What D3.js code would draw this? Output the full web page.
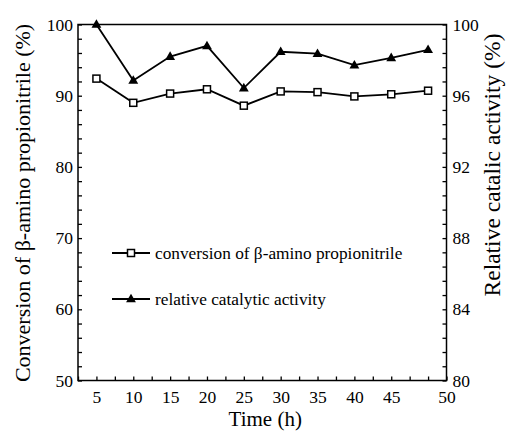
<!DOCTYPE html>
<html>
<head>
<meta charset="utf-8">
<title>Conversion vs time</title>
<style>
  body { margin: 0; background: #fff; }
  text { font-family: "Liberation Serif", "DejaVu Serif", serif; fill: #000; }
</style>
</head>
<body>
<svg width="506" height="433"></svg>
<script src="https://d3js.org/d3.v7.min.js"></script>
<script>

var times = [5, 10, 15, 20, 25, 30, 35, 40, 45, 50];
var conversion = [92.4, 89.0, 90.3, 90.9, 88.6, 90.6, 90.5, 89.9, 90.2, 90.7];
var activity = [100, 96.86, 98.2, 98.8, 96.43, 98.47, 98.36, 97.72, 98.13, 98.58];

var xTickVals = [5, 10, 15, 20, 25, 30, 35, 40, 45, 52.5];
var xTickLabels = ["5", "10", "15", "20", "25", "30", "35", "40", "45", "50"];
var leftTicks = [50, 60, 70, 80, 90, 100];
var rightTicks = [80, 84, 88, 92, 96, 100];

var svg = d3.select("svg");

var pL = 78, pR = 446.5, pT = 24.5, pB = 380.5;

var x = d3.scaleLinear().domain([2.5, 52.5]).range([pL, pR]);
var yL = d3.scaleLinear().domain([50, 100]).range([pB, pT]);
var yR = d3.scaleLinear().domain([80, 100]).range([pB, pT]);

// minor ticks
var xMinor = d3.range(2.5, 52.51, 2.5);
var yMinor = d3.range(50, 100.01, 2);
var yRMinor = d3.range(80, 100.01, 0.8);

function styleAxis(g) {
  g.select(".domain").remove();
  g.selectAll("line").attr("stroke", "#000").attr("stroke-width", 1.3);
  g.selectAll("text").style("font-size", "17.5px").attr("font-family", "Liberation Serif");
}

svg.append("g").attr("transform", "translate(0," + pB + ")")
  .call(d3.axisBottom(x).tickValues(xMinor).tickSize(-4).tickFormat(""))
  .call(styleAxis);
svg.append("g").attr("transform", "translate(0," + pB + ")")
  .call(d3.axisBottom(x).tickValues(xTickVals).tickSize(0).tickPadding(10)
    .tickFormat(function(d, i) { return xTickLabels[i]; }))
  .call(styleAxis);

svg.append("g").attr("transform", "translate(" + pL + ",0)")
  .call(d3.axisLeft(yL).tickValues(yMinor).tickSize(-4).tickFormat(""))
  .call(styleAxis);
svg.append("g").attr("transform", "translate(" + pL + ",0)")
  .call(d3.axisLeft(yL).tickValues(leftTicks).tickSize(0).tickPadding(5))
  .call(styleAxis);

svg.append("g").attr("transform", "translate(" + pR + ",0)")
  .call(d3.axisRight(yR).tickValues(yRMinor).tickSize(-4).tickFormat(""))
  .call(styleAxis);
svg.append("g").attr("transform", "translate(" + pR + ",0)")
  .call(d3.axisRight(yR).tickValues(rightTicks).tickSize(0).tickPadding(6))
  .call(styleAxis);

// frame
svg.append("rect")
  .attr("x", pL).attr("y", pT)
  .attr("width", pR - pL).attr("height", pB - pT)
  .attr("fill", "none").attr("stroke", "#000").attr("stroke-width", 1.5);

// lines
var lineConv = d3.line().x(function(d, i) { return x(times[i]); }).y(function(d) { return yL(d); });
var lineAct = d3.line().x(function(d, i) { return x(times[i]); }).y(function(d) { return yR(d); });

svg.append("path").datum(conversion).attr("d", lineConv)
  .attr("fill", "none").attr("stroke", "#000").attr("stroke-width", 1.8);
svg.append("path").datum(activity).attr("d", lineAct)
  .attr("fill", "none").attr("stroke", "#000").attr("stroke-width", 1.8);

var tri = d3.symbol().type(d3.symbolTriangle).size(42);

svg.selectAll(".sq").data(conversion).enter().append("rect")
  .attr("x", function(d, i) { return x(times[i]) - 3.5; })
  .attr("y", function(d) { return yL(d) - 3.5; })
  .attr("width", 7).attr("height", 7)
  .attr("fill", "#fff").attr("stroke", "#000").attr("stroke-width", 1.5);

svg.selectAll(".tri").data(activity).enter().append("path")
  .attr("d", tri)
  .attr("transform", function(d, i) { return "translate(" + x(times[i]) + "," + (yR(d) + 0.5) + ")"; })
  .attr("fill", "#000");

// legend
var legend = svg.append("g");
legend.append("line").attr("x1", 112).attr("x2", 150).attr("y1", 253).attr("y2", 253)
  .attr("stroke", "#000").attr("stroke-width", 1.8);
legend.append("rect").attr("x", 131 - 3.5).attr("y", 253 - 3.5).attr("width", 7).attr("height", 7)
  .attr("fill", "#fff").attr("stroke", "#000").attr("stroke-width", 1.5);
legend.append("text").attr("x", 155).attr("y", 259).style("font-size", "17.3px")
  .text("conversion of β-amino propionitrile");
legend.append("line").attr("x1", 112).attr("x2", 150).attr("y1", 299).attr("y2", 299)
  .attr("stroke", "#000").attr("stroke-width", 1.8);
legend.append("path").attr("d", tri).attr("transform", "translate(131,299.5)").attr("fill", "#000");
legend.append("text").attr("x", 155).attr("y", 305).style("font-size", "17.3px")
  .text("relative catalytic activity");

// axis titles
svg.append("text").attr("x", (pL + pR) / 2 + 3).attr("y", 426)
  .attr("text-anchor", "middle").style("font-size", "21px").text("Time (h)");
svg.append("text").attr("transform", "translate(30,203) rotate(-90)")
  .attr("text-anchor", "middle").style("font-size", "22px")
  .text("Conversion of β-amino propionitrile (%)");
svg.append("text").attr("transform", "translate(500,165) rotate(-90)")
  .attr("text-anchor", "middle").style("font-size", "23.5px")
  .text("Relative catalic activity (%)");

</script>
</body>
</html>
